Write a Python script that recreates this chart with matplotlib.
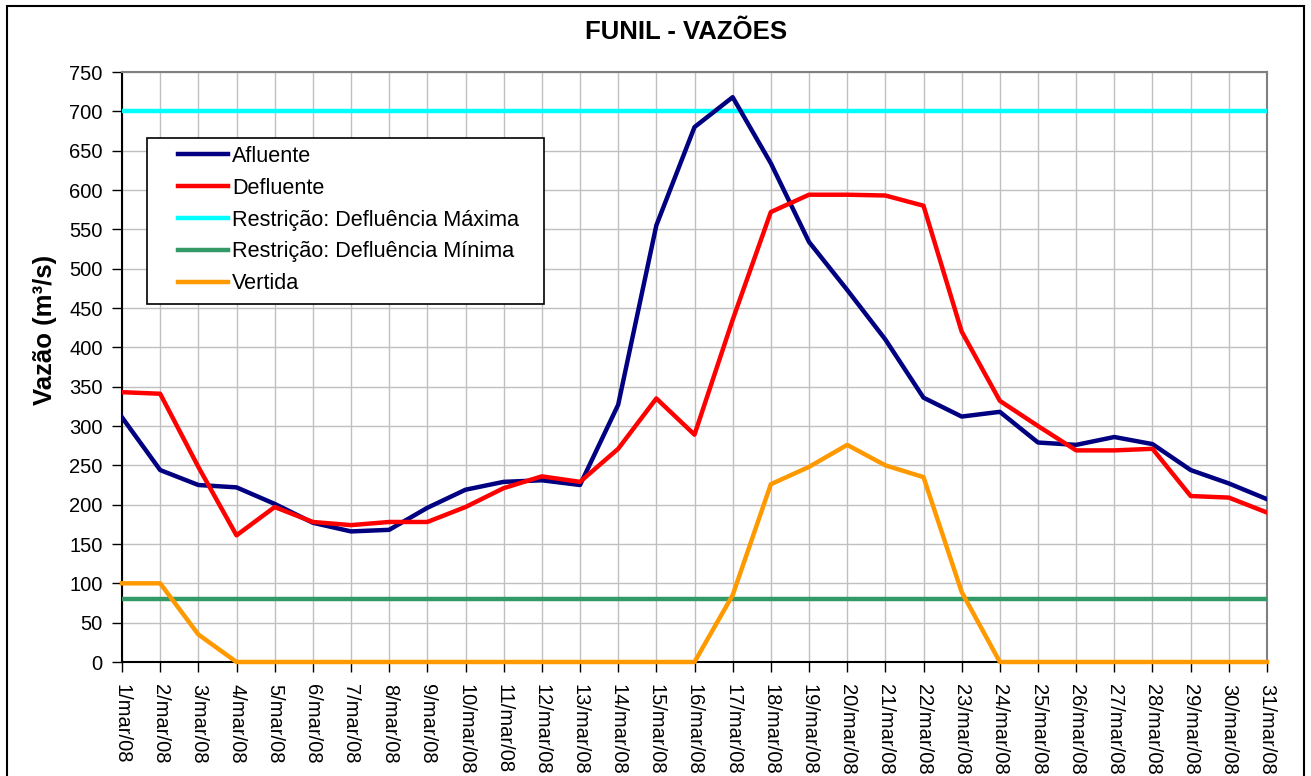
import matplotlib
matplotlib.use("Agg")
import matplotlib.pyplot as plt
from matplotlib.patches import Rectangle
import numpy as np

plt.rcParams['font.family'] = ['Liberation Sans', 'DejaVu Sans']

# Dados - Funil, marco/2008
dias = list(range(1, 32))
rotulos = ["%d/mar/08" % d for d in dias]

afluente = [311, 244, 225, 222, 201, 177, 166, 168, 196, 219,
            229, 231, 225, 327, 555, 680, 718, 634, 534, 473,
            410, 336, 312, 318, 279, 276, 286, 277, 244, 227, 207]
defluente = [343, 341, 248, 161, 197, 178, 174, 178, 178, 197,
             221, 236, 229, 271, 335, 289, 435, 572, 594, 594,
             593, 580, 420, 332, 300, 269, 269, 271, 211, 209, 190]
vertida = [100, 100, 35, 0, 0, 0, 0, 0, 0, 0,
           0, 0, 0, 0, 0, 0, 85, 226, 248, 276,
           250, 235, 89, 0, 0, 0, 0, 0, 0, 0, 0]
defl_max = 700
defl_min = 80

W, H = 1311, 776
fig = plt.figure(figsize=(W / 100, H / 100), dpi=100)
ax = fig.add_axes([122 / W, 1 - 662 / H, 1145 / W, 590 / H])

lw = 3.2
ax.plot(dias, afluente, color='#000080', lw=lw, label='Afluente', zorder=5)
ax.plot(dias, defluente, color='#FF0000', lw=lw, label='Defluente', zorder=5)
ax.plot(dias, [defl_max] * len(dias), color='#00FFFF', lw=lw,
        label='Restrição: Defluência Máxima', zorder=4)
ax.plot(dias, [defl_min] * len(dias), color='#339966', lw=lw,
        label='Restrição: Defluência Mínima', zorder=4)
ax.plot(dias, vertida, color='#FF9900', lw=lw, label='Vertida', zorder=5,
        clip_on=False)

ax.set_xlim(1, 31)
ax.set_ylim(0, 750)
ax.set_xticks(dias)
ax.set_xticklabels(rotulos, rotation=-90, ha='center', va='top', fontsize=14.5)
ax.set_yticks(np.arange(0, 751, 50))
ax.tick_params(axis='y', labelsize=14.5, direction='out', length=7, width=1, pad=7)
ax.tick_params(axis='x', direction='out', length=7, width=1, pad=9)

ax.grid(True, color='#c0c0c0', lw=1)
ax.set_axisbelow(True)
for s in ['top', 'right']:
    ax.spines[s].set_color('#808080')
    ax.spines[s].set_linewidth(1.5)
for s in ['left', 'bottom']:
    ax.spines[s].set_color('black')
    ax.spines[s].set_linewidth(1.5)

# legenda
ax.add_patch(Rectangle((25 / 1145, (662 - 304) / 590), (544 - 147) / 1145,
                       (304 - 138) / 590, transform=ax.transAxes,
                       facecolor='white', edgecolor='black', lw=1.2, zorder=6))
leg = ax.legend(loc='upper left', bbox_to_anchor=((178 - 122) / 1145, (662 - 146) / 590),
                frameon=False, fontsize=15.6, handlelength=2.3, handletextpad=0.2,
                labelspacing=0.5, borderpad=0, borderaxespad=0)
leg.set_zorder(7)

fig.text(686 / W, 1 - 32 / H, 'FUNIL - VAZÕES', ha='center', va='center',
         fontsize=18.5, fontweight='bold')
fig.text(45 / W, 1 - 330 / H, 'Vazão (m³/s)', ha='center', va='center',
         rotation=90, fontsize=18.5, fontweight='bold')

fig.patches.append(Rectangle((7 / W, -0.05), (1304 - 7) / W, 1.05 - 6 / H,
                             transform=fig.transFigure, fill=False,
                             edgecolor='black', lw=1.5))

fig.savefig('out.png', dpi=100)
